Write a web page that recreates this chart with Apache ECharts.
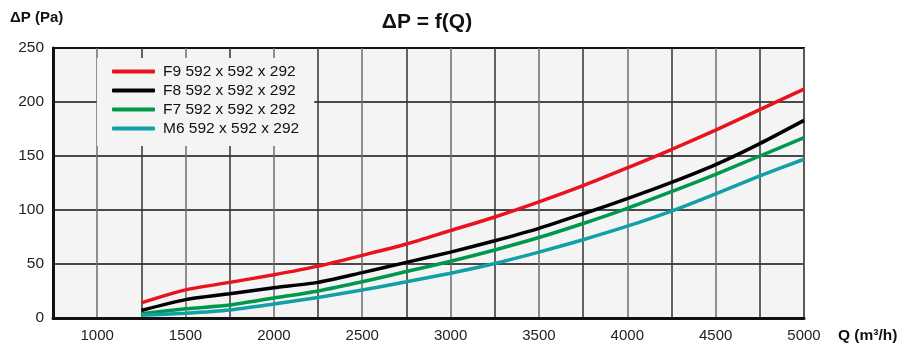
<!DOCTYPE html>
<html>
<head>
<meta charset="utf-8">
<script src="https://cdn.jsdelivr.net/npm/echarts@6/dist/echarts.min.js"></script>
<style>
  html, body { margin: 0; padding: 0; background: #fff; }
  #chart { width: 900px; height: 347px; }
</style>
</head>
<body>
<div id="chart"></div>
<script>
  // Q (m3/h)
  const flowRates = [1250, 1500, 1750, 2000, 2250, 2500, 2750, 3000, 3250, 3500, 3750, 4000, 4250, 4500, 4750, 5000];
  // delta P (Pa)
  const f9 = [14, 26, 33, 40, 48, 58, 68.5, 81, 93.5, 107.5, 122.5, 139, 156, 174, 193, 212];
  const f8 = [7, 17, 22.5, 28, 33, 42, 51.5, 61, 71.5, 83, 96.5, 110.5, 125.5, 142, 161.5, 183];
  const f7 = [4, 8.5, 12, 18.5, 25, 33.5, 43, 52.5, 63, 74.5, 87.5, 101.5, 117, 133, 150, 167];
  const m6 = [2.5, 4.5, 7.5, 13, 19, 26, 33.5, 41.5, 50.5, 61, 72.5, 85, 99, 115, 131.5, 147];
  const seriesNames = ["F9 592 x 592 x 292", "F8 592 x 592 x 292", "F7 592 x 592 x 292", "M6 592 x 592 x 292"];
  const seriesColors = ["#e8131c", "#000000", "#00994c", "#12a0a6"];

  const font = "Liberation Sans";
  const toPairs = arr => flowRates.map((q, i) => [q, arr[i]]);

  const chart = echarts.init(document.getElementById("chart"));
  chart.setOption({
    animation: false,
    textStyle: { fontFamily: font },
    title: {
      text: "ΔP = f(Q)",
      left: 422,
      top: 7,
      textAlign: "center",
      textStyle: { fontSize: 21, fontWeight: "bold", color: "#111", fontFamily: font }
    },
    graphic: [
      {
        type: "text", left: 10, top: 10,
        style: { text: "ΔP (Pa)", font: "bold 15px " + font, fill: "#111" }
      },
      {
        type: "text", left: 838, top: 328,
        style: { text: "Q (m³/h)", font: "bold 15.5px " + font, fill: "#111" }
      }
    ],
    legend: {
      orient: "vertical",
      left: 97,
      top: 58,
      padding: [4, 15, 8, 15],
      backgroundColor: "#f4f4f4",
      itemWidth: 43,
      itemHeight: 4,
      itemGap: 0,
      icon: "roundRect",
      textStyle: { fontSize: 15.5, color: "#111", lineHeight: 19, padding: [0, 0, 0, 3], fontFamily: font },
      data: seriesNames
    },
    grid: {
      left: 53, right: 96, top: 48, bottom: 29,
      show: true,
      backgroundColor: "#f4f4f4",
      borderColor: "#1a1a1a",
      borderWidth: 2
    },
    xAxis: {
      type: "value",
      min: 750,
      max: 5000,
      interval: 250,
      axisLine: { show: true, onZero: false, lineStyle: { color: "#111", width: 3 } },
      axisTick: { show: false },
      axisLabel: {
        fontSize: 15, color: "#222", margin: 10, fontFamily: font,
        formatter: v => (v >= 1000 && v % 500 === 0) ? String(v) : ""
      },
      splitLine: { show: true, lineStyle: { color: ["#333", "#6e6e6e"], width: 1.5 } }
    },
    yAxis: {
      type: "value",
      min: 0,
      max: 250,
      interval: 50,
      axisLine: { show: true, lineStyle: { color: "#111", width: 3 } },
      axisTick: { show: false },
      axisLabel: { fontSize: 15.5, color: "#222", margin: 9, fontFamily: font },
      splitLine: { show: true, lineStyle: { color: "#111", width: 1.5 } }
    },
    series: [f9, f8, f7, m6].map((arr, i) => ({
      name: seriesNames[i],
      type: "line",
      data: toPairs(arr),
      symbol: "none",
      smooth: 0.25,
      color: seriesColors[i],
      lineStyle: { width: 3.5, color: seriesColors[i] }
    }))
  });
</script>
</body>
</html>
